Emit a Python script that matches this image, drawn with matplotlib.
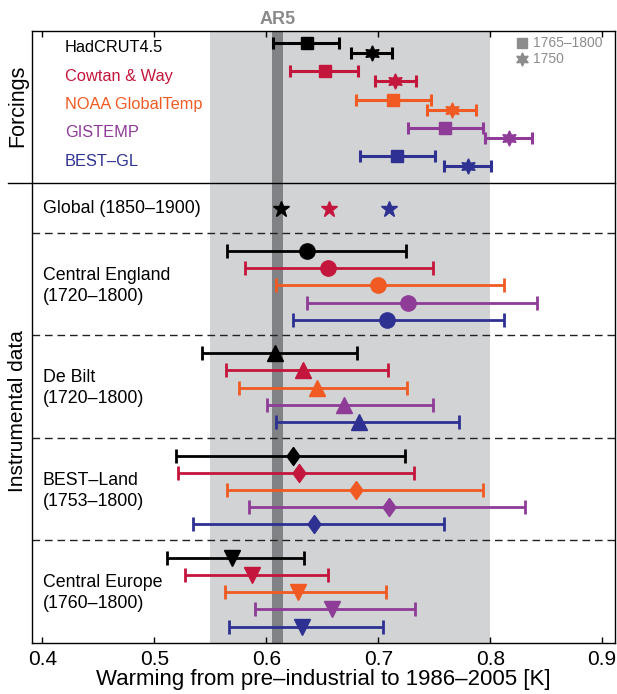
import matplotlib
matplotlib.use('Agg')
import matplotlib.pyplot as plt
import matplotlib.transforms as mtransforms

plt.rcParams['font.family'] = ['Liberation Sans', 'DejaVu Sans']

# datasets (colour order is the same in every group)
names = ['HadCRUT4.5', 'Cowtan & Way', 'NOAA GlobalTemp', 'GISTEMP', 'BEST–GL']
colors = ['#000000', '#c4163c', '#f15a22', '#8e3c97', '#2e3192']

# Forcings: 1765-1800 (squares) and 1750 (stars)
forc_sq_mid = [0.636, 0.6525, 0.7135, 0.760, 0.717]
forc_sq_lo = [0.606, 0.621, 0.680, 0.727, 0.684]
forc_sq_hi = [0.665, 0.682, 0.7475, 0.7935, 0.7505]
forc_st_mid = [0.694, 0.715, 0.766, 0.817, 0.780]
forc_st_lo = [0.676, 0.697, 0.744, 0.795, 0.759]
forc_st_hi = [0.712, 0.734, 0.787, 0.8375, 0.801]

# Global (1850-1900): HadCRUT, Cowtan & Way, BEST
global_vals = [0.613, 0.656, 0.710]
global_cols = [colors[0], colors[1], colors[4]]

# instrumental groups
groups = ['Central England\n(1720–1800)', 'De Bilt\n(1720–1800)',
          'BEST–Land\n(1753–1800)', 'Central Europe\n(1760–1800)']
ce_mid = [0.636, 0.655, 0.700, 0.727, 0.708]
ce_lo = [0.565, 0.581, 0.609, 0.636, 0.624]
ce_hi = [0.725, 0.749, 0.812, 0.842, 0.812]
db_mid = [0.608, 0.633, 0.645, 0.669, 0.683]
db_lo = [0.5425, 0.564, 0.5755, 0.6005, 0.609]
db_hi = [0.681, 0.709, 0.726, 0.749, 0.772]
bl_mid = [0.624, 0.629, 0.680, 0.710, 0.643]
bl_lo = [0.519, 0.521, 0.565, 0.585, 0.5345]
bl_hi = [0.724, 0.732, 0.794, 0.831, 0.759]
ceu_mid = [0.5697, 0.587, 0.628, 0.659, 0.632]
ceu_lo = [0.5116, 0.5275, 0.563, 0.590, 0.567]
ceu_hi = [0.634, 0.655, 0.7065, 0.733, 0.704]

ar5_range = (0.55, 0.80)
ar5_best = (0.605, 0.615)

diamond = [(0, 1), (0.72, 0), (0, -1), (-0.72, 0), (0, 1)]
hexstar = (6, 1, 0)
group_data = [(ce_mid, ce_lo, ce_hi, 'o', 11),
              (db_mid, db_lo, db_hi, '^', 11.5),
              (bl_mid, bl_lo, bl_hi, diamond, 13),
              (ceu_mid, ceu_lo, ceu_hi, 'v', 11.5)]


def bar(x, lo, hi, y, color, marker, ms, lw=2, cap=4.8):
    ax.errorbar(x, y, xerr=[[x - lo], [hi - x]], fmt='none', ecolor=color,
                elinewidth=lw, capsize=cap, capthick=lw, zorder=3)
    ax.plot([x], [y], marker=marker, color=color, ms=ms, ls='none', zorder=4)


fig = plt.figure(figsize=(6.17, 6.94), dpi=100)
ax = fig.add_axes([0.0514, 0.074, 0.9454, 0.8818])

ax.axvspan(*ar5_range, color='#d1d3d4', zorder=0, lw=0)
ax.axvspan(*ar5_best, color='#808285', zorder=1, lw=0)

# y in "rows" from the top
ax.set_ylim(642.7, 30.7)
ax.set_xlim(0.3905, 0.9115)

# forcings
for i in range(5):
    y = 43 + i * 28.3
    bar(forc_sq_mid[i], forc_sq_lo[i], forc_sq_hi[i], y, colors[i], 's', 9, lw=2.2, cap=4.5)
    bar(forc_st_mid[i], forc_st_lo[i], forc_st_hi[i], y + 10, colors[i], hexstar, 11, lw=2.2, cap=4.5)
    ax.text(0.420, y + 5, names[i], color=colors[i], fontsize=11.8, va='center')

ax.text(0.8385, 43, '1765–1800', color='#8c8c8c', fontsize=10, va='center')
ax.text(0.8385, 59, '1750', color='#8c8c8c', fontsize=10, va='center')
ax.plot([0.8287], [43], 's', color='#8c8c8c', ms=7.5, zorder=3)
ax.plot([0.8287], [59], marker=hexstar, color='#8c8c8c', ms=9.5, zorder=3)

# separator between forcings and instrumental data
trans = mtransforms.blended_transform_factory(ax.transAxes, ax.transData)
ax.plot([-0.041, 1], [183, 183], color='k', lw=1, transform=trans, clip_on=False, zorder=4)

# global
ax.text(0.4003, 209, 'Global (1850–1900)', fontsize=12.8, va='center')
for v, c in zip(global_vals, global_cols):
    ax.plot([v], [209], '*', color=c, ms=12, zorder=3)

for g, (label, (mid, lo, hi, mk, ms)) in enumerate(zip(groups, group_data)):
    top = 233 + g * 102.3
    ax.axhline(top, color='#222222', lw=1, ls=(0, (5.5, 3.5)), zorder=2)
    for i in range(5):
        bar(mid[i], lo[i], hi[i], top + 18 + i * 17.2, colors[i], mk, ms)
    ax.text(0.4003, top + 53, label, fontsize=12.8, va='center', linespacing=1.3)

ax.text(0.61, 19.5, 'AR5', color='#8a8a8a', fontsize=13, fontweight='bold',
        ha='center', va='center', clip_on=False)

ax.set_xticks([0.4, 0.5, 0.6, 0.7, 0.8, 0.9])
ax.set_xticklabels(['0.4', '0.5', '0.6', '0.7', '0.8', '0.9'])
ax.tick_params(axis='x', direction='in', top=True, length=4.5, width=1, labelsize=15, pad=5)
ax.set_yticks([])
ax.set_xlabel('Warming from pre–industrial to 1986–2005 [K]', fontsize=16, labelpad=0)
for s in ax.spines.values():
    s.set_linewidth(1)

fig.text(0.028, 1 - 106 / 694, 'Forcings', rotation=90, fontsize=15.5, ha='center', va='center')
fig.text(0.028, 1 - 411 / 694, 'Instrumental data', rotation=90, fontsize=15, ha='center', va='center')

fig.savefig('out.png', dpi=100)
